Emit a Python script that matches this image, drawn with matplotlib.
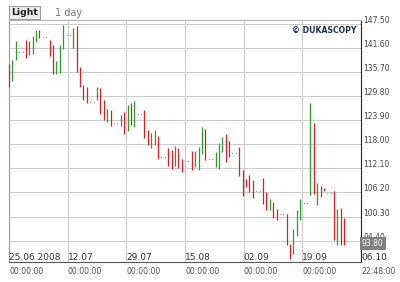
import matplotlib
matplotlib.use('Agg')
import matplotlib.pyplot as plt
from matplotlib.transforms import offset_copy

# trading days (days after 25.06.2008) with open / close
days = [0, 1, 2, 5, 6, 7, 8, 9, 12, 13, 14, 15, 16, 19, 20, 21, 22, 23,
        26, 27, 28, 29, 30, 33, 34, 35, 36, 37, 40, 41, 42, 43, 44,
        47, 48, 49, 50, 51, 54, 55, 56, 57, 58, 61, 62, 63, 64, 65,
        68, 69, 70, 71, 72, 75, 76, 77, 78, 79, 82, 83, 84, 85, 86,
        89, 90, 91, 92, 93, 96, 97, 98, 99]
opens = [137.66, 133.50, 138.64, 143.53, 139.86, 140.03, 142.97, 145.84,
         143.53, 142.31, 135.14, 135.38, 141.33, 141.43, 146.89, 136.92,
         132.45, 131.88, 128.77, 131.64, 128.77, 123.46, 126.33, 122.41,
         125.91, 121.26, 127.96, 122.09, 126.33, 121.43, 116.95, 117.76,
         119.96, 116.95, 116.53, 112.62, 116.95, 114.50, 116.36, 112.45,
         111.64, 115.72, 121.60, 112.45, 112.05, 116.12, 120.45, 118.81,
         117.34, 111.64, 109.60, 110.41, 109.19, 109.85, 106.33, 101.85,
         103.88, 102.26, 100.86, 93.69, 91.07, 95.48, 99.57, 105.52,
         123.07, 103.07, 107.79, 107.20, 106.49, 93.28, 102.41, 99.96]
closes = [131.88, 138.64, 143.14, 139.05, 143.14, 144.37, 145.84, 143.95,
          139.47, 135.14, 138.25, 142.31, 147.21, 146.33, 135.70, 131.88,
          128.77, 128.11, 131.88, 125.34, 123.88, 126.57, 122.41, 125.10,
          120.38, 127.55, 122.65, 128.53, 119.40, 117.76, 120.62, 121.43,
          114.50, 112.62, 112.05, 117.51, 112.30, 111.22, 111.64, 116.36,
          117.34, 122.24, 114.09, 116.12, 118.17, 119.79, 113.67, 114.89,
          110.17, 105.27, 107.55, 106.33, 104.95, 103.48, 101.85, 104.71,
          100.06, 99.57, 93.28, 90.02, 97.36, 101.85, 104.71, 128.11,
          105.93, 108.63, 105.10, 106.60, 94.48, 102.16, 93.45, 93.28]

weekend_days = [3, 4, 10, 11, 17, 18, 24, 25, 31, 32, 38, 39, 45, 46, 52, 53,
                59, 60, 66, 67, 73, 74, 80, 81, 87, 88, 94, 95]
weekend_prices = [140.52, 140.52, 144.12, 144.12, 144.68, 144.68, 128.36, 128.36,
                  123.22, 123.22, 125.34, 125.34, 114.89, 114.89, 113.91, 113.91,
                  114.50, 114.50, 115.87, 115.87, 106.57, 106.57, 100.86, 100.86,
                  103.63, 103.63, 106.00, 106.00]

y_ticks = [147.50, 141.60, 135.70, 129.80, 123.90, 118.00, 112.10, 106.20, 100.30, 94.40]
date_labels = ['25.06 2008', '12.07', '29.07', '15.08', '02.09', '19.09', '06.10']
time_labels = ['00:00:00'] * 6 + ['22:48:00']
last_price = 93.80

span = 103.95
fig = plt.figure(figsize=(4, 2.82), dpi=100)
ax = fig.add_axes([9/400, 1 - 262/282, 352/400, 242/282])
ax.set_xlim(0, span)
ax.set_ylim(89.2, 148.36)

# grid
grid_x = [k * span / 6 for k in range(7)]
for gx in grid_x[1:-1]:
    ax.axvline(gx, color='#cccccc', lw=0.75, zorder=1)
for gy in y_ticks:
    ax.axhline(gy, color='#cccccc', lw=0.75, zorder=1)

# bars
for d, o, c in zip(days, opens, closes):
    col = '#2e9a2e' if c >= o else '#d62222'
    ax.vlines(d, min(o, c), max(o, c), color=col, lw=0.9, zorder=3, clip_on=False)
# weekend ticks: tiny dots
ax.plot(weekend_days, weekend_prices, ls='none', marker='s', ms=0.7, mew=0,
        color='#e08888', zorder=3)

ax.set_xticks([])
ax.set_yticks([])
for side, col in [('left', '#999999'), ('top', '#b0b0b0'), ('right', '#222222'), ('bottom', '#555555')]:
    ax.spines[side].set_color(col)
    ax.spines[side].set_linewidth(0.8)

# y labels on the right
tr = offset_copy(ax.get_yaxis_transform(), fig=fig, x=2, y=3.5, units='dots')
for v in y_ticks:
    ax.text(1.0, v, f'{v:.2f}', transform=tr, ha='left', va='center',
            fontsize=5.5, color='#444444', clip_on=False, zorder=4)
tr2 = offset_copy(ax.get_yaxis_transform(), fig=fig, x=1, y=0, units='dots')
ax.text(1.0, last_price, f'{last_price:.2f}', transform=tr2, ha='left', va='center',
        fontsize=5.5, color='white', zorder=6, clip_on=False,
        bbox=dict(boxstyle='square,pad=0.25', fc='#808080', ec='none'))

# x labels
trx = offset_copy(ax.get_xaxis_transform(), fig=fig, x=0, y=5, units='dots')
trt = offset_copy(ax.get_xaxis_transform(), fig=fig, x=0, y=-9, units='dots')
for gx, dl, tl in zip(grid_x, date_labels, time_labels):
    ax.text(gx, 0, dl, transform=trx, ha='left', va='center', fontsize=6.5,
            color='#333333', clip_on=False)
    ax.text(gx, 0, tl, transform=trt, ha='left', va='center', fontsize=5.6,
            color='#555555', clip_on=False)

# header
fig.text(11/400, 1 - 12.5/282, 'Light', fontsize=6.7, fontweight='bold', color='#222222',
         ha='left', va='center',
         bbox=dict(boxstyle='square,pad=0.25', fc='#ececec', ec='#9a9a9a', lw=0.7))
fig.text(55/400, 1 - 12.5/282, '1 day', fontsize=7, color='#777777', ha='left', va='center')
ax.text(0.988, 0.975, '© DUKASCOPY', transform=ax.transAxes, ha='right', va='top',
        fontsize=5.6, fontweight='bold', color='#1e2e5c')

fig.savefig('out.png', dpi=100)
